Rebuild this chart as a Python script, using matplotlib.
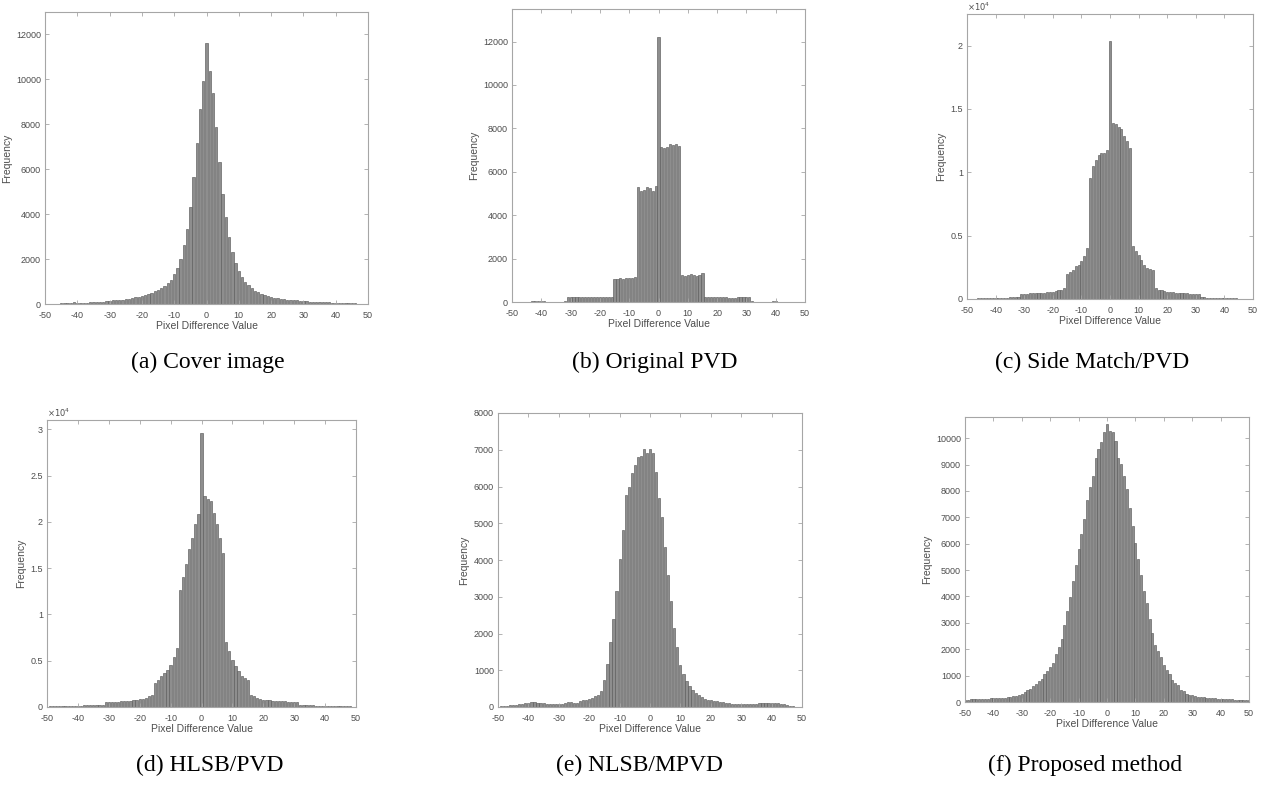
import numpy as np
import matplotlib
matplotlib.use('Agg')
from matplotlib import pyplot as plt

plt.rcParams['font.family'] = ['Liberation Sans', 'DejaVu Sans']
plt.rcParams['axes.unicode_minus'] = False

bins = list(range(-50, 51))

cover = [
    10, 12, 15, 18, 22, 25, 30, 35, 40, 70,
    45, 55, 60, 65, 70, 75, 80, 90, 100, 140,
    150, 160, 175, 190, 200, 220, 240, 260, 290, 320,
    350, 390, 440, 500, 570, 640, 720, 820, 950, 1080,
    1340, 1600, 2000, 2630, 3340, 4330, 5670, 7150, 8700, 9930,
    11600,
    10390, 9400, 7860, 6320, 4880, 3890, 3000, 2300, 1810, 1480,
    1220, 1000, 830, 700, 600, 520, 460, 400, 350, 310,
    280, 260, 240, 220, 200, 190, 175, 160, 150, 140,
    120, 110, 100, 90, 85, 80, 75, 70, 65, 60,
    50, 45, 40, 35, 30, 25, 20, 15, 12, 10,
]

orig_pvd = (
    [15, 15, 18, 20, 20, 22, 22, 25, 25, 28]
    + [40, 25, 22, 20, 18, 18, 20, 22, 25]
    + [250, 240, 250, 245, 240, 235, 230, 240, 235, 240, 225, 215, 220, 225, 230, 235]
    + [1080, 1070, 1120, 1040, 1100, 1090, 1110, 1170]
    + [5300, 5110, 5180, 5300, 5270, 5110, 5330]
    + [12200]
    + [7140, 7110, 7140, 7300, 7220, 7260, 7190]
    + [1230, 1200, 1260, 1270, 1260, 1210, 1230, 1340]
    + [240, 240, 235, 230, 225, 220, 215, 210, 205, 200, 200, 210, 220, 230, 240, 235]
    + [25, 22, 20, 18, 18, 20, 22, 25, 30, 22, 20, 18, 18, 20, 22, 20, 18, 15, 15]
)

side_match = (
    [20, 25, 30, 35, 40, 45, 50, 55, 60, 70, 75, 80, 90, 100, 110, 120, 140, 160, 190]
    + [420, 425, 430, 440, 450, 460, 470, 480, 500, 520, 540, 550, 600, 680, 740, 840]
    + [2000, 2100, 2300, 2600, 2700, 3000, 3400, 4000]
    + [9550, 10500, 11000, 11400, 11500, 11500, 11800]
    + [20400]
    + [13900, 13800, 13550, 13400, 12900, 12500, 11900]
    + [4200, 3760, 3450, 3050, 2660, 2450, 2370, 2300]
    + [840, 740, 680, 620, 580, 550, 520, 500, 480, 460, 450, 440, 430, 420, 420, 430]
    + [150, 120, 100, 90, 80, 75, 70, 65, 60, 55, 50, 45, 40, 35, 30, 25, 20, 15, 10]
)

hlsb = (
    [50, 60, 70, 80, 90, 100, 110, 120, 130, 140, 150, 160, 170, 180, 190, 200, 210, 220, 250]
    + [540, 550, 560, 570, 580, 600, 620, 640, 680, 720, 800, 860, 900, 1000, 1150, 1330]
    + [2600, 2950, 3400, 3700, 4000, 4560, 5350, 6400]
    + [12600, 14000, 15450, 17100, 18300, 19800, 20800]
    + [29600]
    + [22800, 22500, 22200, 21000, 19800, 18300, 16600]
    + [7000, 6000, 5100, 4400, 3850, 3400, 3100, 2900]
    + [1330, 1150, 970, 860, 800, 760, 720, 690, 660, 640, 620, 600, 580, 570, 560, 550]
    + [250, 220, 200, 180, 170, 160, 150, 140, 130, 140, 120, 110, 100, 90, 80, 70, 60, 50, 40]
)

nlsb = [
    10, 20, 30, 40, 50, 60, 60, 70, 80, 100,
    120, 130, 130, 120, 110, 100, 90, 90, 80, 80,
    80, 90, 110, 140, 130, 110, 120, 150, 190, 200,
    220, 250, 300, 340, 440, 735, 1160, 1780, 2390, 3170,
    4030, 4820, 5770, 5990, 6360, 6590, 6790, 6830, 7010, 6900,
    7010,
    6900, 6400, 5680, 5180, 4360, 3590, 2890, 2140, 1640, 1150,
    900, 700, 560, 460, 380, 320, 270, 230, 200, 180,
    160, 150, 140, 130, 110, 100, 90, 85, 80, 80,
    85, 80, 75, 85, 95, 100, 100, 110, 120, 120,
    110, 100, 90, 80, 60, 40, 25, 10, 5, 3,
]

proposed = [
    90, 90, 95, 100, 105, 110, 115, 120, 125, 135,
    145, 150, 155, 160, 170, 180, 190, 210, 230, 250,
    320, 380, 440, 510, 600, 670, 790, 890, 1050, 1180,
    1330, 1460, 1810, 2090, 2390, 2920, 3430, 3970, 4570, 5180,
    5810, 6380, 6920, 7650, 8160, 8570, 9230, 9590, 9860, 10220,
    10530,
    10280, 10250, 9900, 9230, 9010, 8570, 8080, 7360, 6660, 6020,
    5410, 4820, 4190, 3740, 3130, 2600, 2160, 1940, 1690, 1400,
    1210, 1050, 820, 720, 630, 470, 420, 320, 280, 250,
    220, 200, 190, 180, 170, 160, 150, 140, 130, 120,
    110, 105, 100, 95, 90, 85, 80, 75, 70, 65,
]

captions = ['(a) Cover image', '(b) Original PVD', '(c) Side Match/PVD',
            '(d) HLSB/PVD', '(e) NLSB/MPVD', '(f) Proposed method']

series = [cover, orig_pvd, side_match, hlsb, nlsb, proposed]
ymax = [13000, 13500, 22500, 31000, 8000, 10800]
ystep = [2000, 2000, 5000, 5000, 1000, 1000]
scaled = [False, False, True, True, False, False]

# axes boxes in pixels: left, top, right, bottom
W, H = 1262, 787
boxes = [
    (45, 12, 368, 304),
    (512, 9, 805, 302),
    (967, 14, 1253, 299),
    (47, 420, 356, 707),
    (498, 413, 802, 707),
    (965, 417, 1249, 702),
]
cap_pos = [(208, 362), (655, 362), (1092, 362),
           (210, 765), (640, 765), (1085, 765)]

fig = plt.figure(figsize=(W / 100, H / 100), dpi=100)
edge = '#a6a6a6'
txt = '#4d4d4d'

for i, vals in enumerate(series):
    l, t, r, b = boxes[i]
    ax = fig.add_axes([l / W, 1 - b / H, (r - l) / W, (b - t) / H])
    ax.bar(bins, vals, width=0.72, color='#8e8e8e', edgecolor='#5c5c5c', linewidth=0.45)
    ax.set_xlim(-50, 50)
    ax.set_ylim(0, ymax[i])
    ax.set_xticks(range(-50, 51, 10))
    yt = list(range(0, ymax[i] + 1, ystep[i]))
    ax.set_yticks(yt)
    if scaled[i]:
        ax.set_yticklabels(['%g' % (v / 10000) for v in yt])
        ax.text(0, 1.005, r'$\times10^4$', transform=ax.transAxes, fontsize=6,
                color=txt, ha='left', va='bottom')
    ax.tick_params(direction='in', length=3, width=0.6, top=True, right=True,
                   labelsize=6.5, colors=edge, labelcolor=txt)
    ax.tick_params(axis='x', pad=5)
    ax.tick_params(axis='y', pad=3)
    for s in ax.spines.values():
        s.set_color(edge)
        s.set_linewidth(0.8)
    ax.set_ylabel('Frequency', fontsize=7.5, color=txt, labelpad=3)
    ax.set_xlabel('Pixel Difference Value', fontsize=7.5, color=txt, labelpad=1)
    cx, cy = cap_pos[i]
    fig.text(cx / W, 1 - cy / H, captions[i], fontsize=17, family='Liberation Serif',
             ha='center', va='center', color='black')

fig.savefig('out.png', dpi=100)
